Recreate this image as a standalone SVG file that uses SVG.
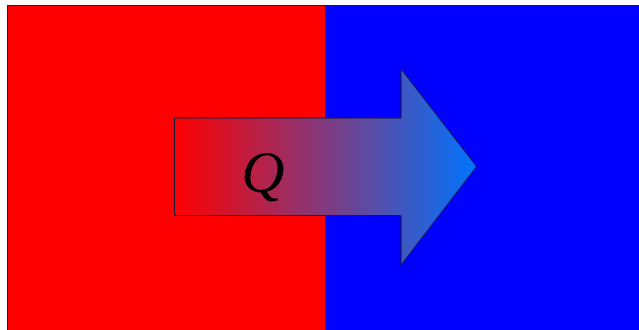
<svg xmlns="http://www.w3.org/2000/svg" width="639" height="330" viewBox="0 0 639 330">
<defs>
<linearGradient id="g" x1="174" y1="0" x2="477" y2="0" gradientUnits="userSpaceOnUse">
<stop offset="0" stop-color="#ff0000"/>
<stop offset="1" stop-color="#0074ff"/>
</linearGradient>
<style>
.box{stroke:#222;stroke-width:1}
.lbl{font-family:"Liberation Serif",serif;font-style:italic;font-size:60px;fill:#000}
</style>
</defs>
<g id="hot"><rect class="box" x="7.5" y="5.5" width="318" height="330" fill="#ff0000"/></g>
<g id="cold"><rect class="box" x="325.5" y="5.5" width="320" height="330" fill="#0000ff"/></g>
<g id="heat-arrow">
<polygon points="174.5,118 401,118 401,69 476.5,166.5 401,265 401,215.5 174.5,215.5" fill="url(#g)" stroke="#1a1a3a" stroke-width="1"/>
<text class="lbl" x="263" y="192" text-anchor="middle">Q</text>
</g>
</svg>
